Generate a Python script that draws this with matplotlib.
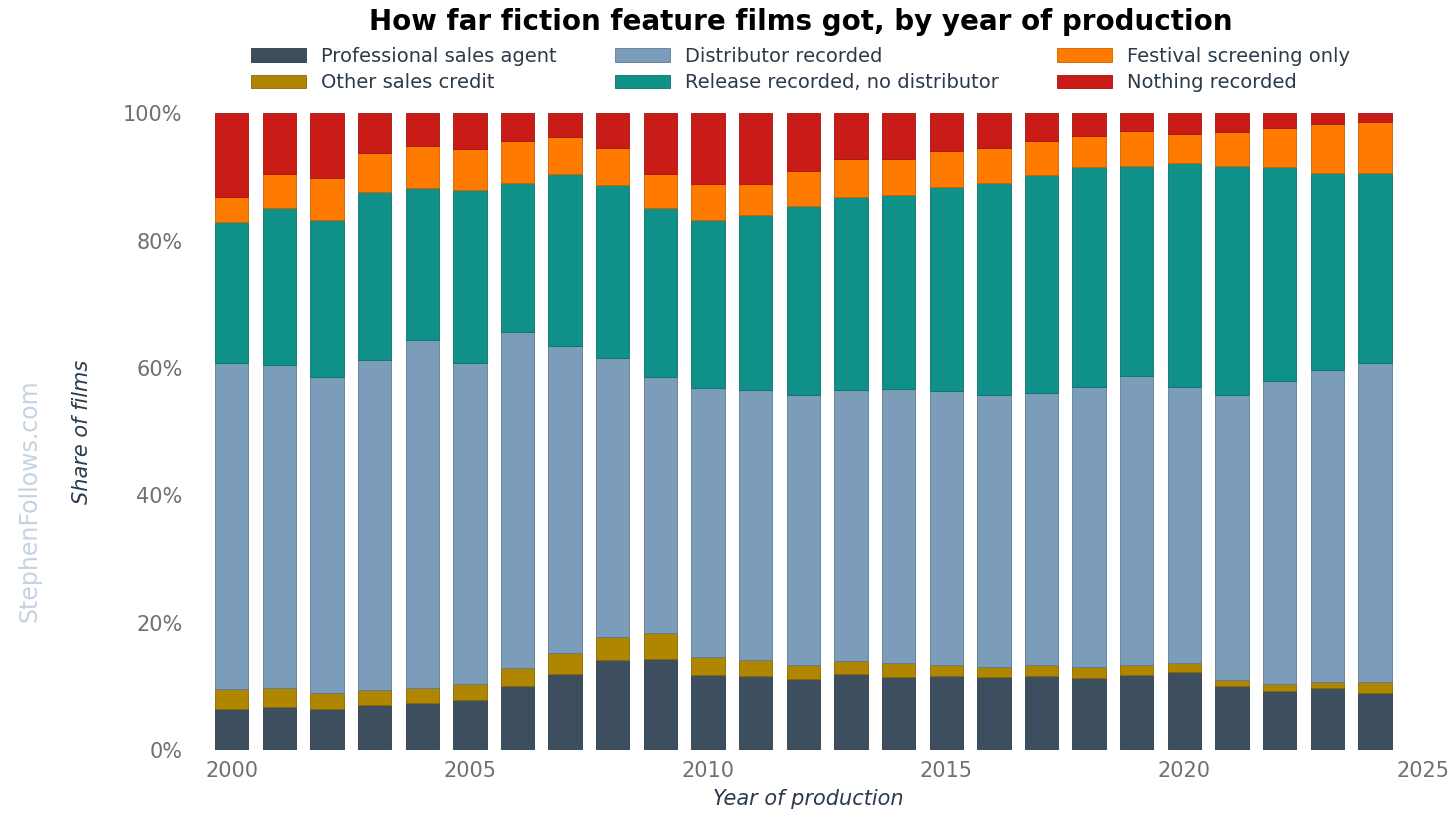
import numpy as np
import matplotlib.pyplot as plt

years = list(range(2000, 2025))
# cumulative share (%) at the top of each stacked segment
upto_sales_agent = [6.5, 6.8, 6.5, 7.1, 7.4, 7.8, 10.0, 12.0, 14.1, 14.3, 11.7, 11.6, 11.1,
                    11.9, 11.4, 11.6, 11.4, 11.6, 11.3, 11.7, 12.3, 10.0, 9.3, 9.7, 9.0]
upto_other_sales = [9.5, 9.8, 9.0, 9.4, 9.7, 10.3, 12.8, 15.2, 17.8, 18.4, 14.6, 14.1, 13.4,
                    14.0, 13.7, 13.4, 13.1, 13.4, 13.1, 13.4, 13.7, 11.0, 10.3, 10.7, 10.6]
upto_distributor = [60.8, 60.5, 58.6, 61.3, 64.4, 60.8, 65.6, 63.5, 61.6, 58.6, 56.8, 56.6, 55.8,
                    56.6, 56.7, 56.4, 55.8, 56.1, 57.0, 58.7, 57.0, 55.8, 57.9, 59.7, 60.8]
upto_release = [83.0, 85.2, 83.3, 87.7, 88.2, 88.0, 89.1, 90.5, 88.8, 85.2, 83.3, 84.0, 85.5,
                86.8, 87.2, 88.5, 89.1, 90.3, 91.6, 91.8, 92.2, 91.8, 91.6, 90.6, 90.6]
upto_festival = [86.8, 90.5, 89.9, 93.8, 94.8, 94.4, 95.6, 96.2, 94.5, 90.5, 88.9, 88.9, 90.9,
                 92.8, 92.8, 94.0, 94.5, 95.6, 96.5, 97.2, 96.7, 97.0, 97.7, 98.3, 98.7]

labels = ["Professional sales agent", "Other sales credit", "Distributor recorded",
          "Release recorded, no distributor", "Festival screening only", "Nothing recorded"]
colors = ["#3d4f5f", "#b08500", "#7b9dba", "#0f9189", "#ff7b00", "#c91c17"]
edges = ["#2b3a47", "#8a6800", "#5a7d9a", "#0b706a", "#cc6200", "#9e1410"]

tops = np.array([upto_sales_agent, upto_other_sales, upto_distributor,
                 upto_release, upto_festival, [100.0] * len(years)])
bottoms = np.vstack([np.zeros(len(years)), tops[:-1]])

fig = plt.figure(figsize=(14.56, 8.21), dpi=100)
ax = fig.add_axes([0.133, 0.0865, 0.844, 0.7755])
handles = []
for i in range(6):
    h = ax.bar(years, tops[i] - bottoms[i], bottom=bottoms[i], width=0.7,
               color=colors[i], edgecolor=edges[i], linewidth=0.6, label=labels[i])
    handles.append(h)

ax.set_xlim(1999.2, 2025)
ax.set_ylim(0, 100)
ax.set_xticks(range(2000, 2026, 5))
ax.set_yticks(range(0, 101, 20))
ax.set_yticklabels([f"{v}%" for v in range(0, 101, 20)])
ax.tick_params(length=0, labelsize=15, colors="#707070", pad=8)
for s in ax.spines.values():
    s.set_visible(False)
ax.set_xlabel("Year of production", fontsize=15, style="italic", color="#2b3a4a", labelpad=6)
ax.set_ylabel("Share of films", fontsize=15, style="italic", color="#2b3a4a", labelpad=22)

fig.suptitle("How far fiction feature films got, by year of production",
             fontsize=20, fontweight="bold", x=0.55, y=0.99)
order = [0, 1, 2, 3, 4, 5]
fig.legend([handles[i] for i in order], [labels[i] for i in order], ncol=3,
           loc="upper center", bbox_to_anchor=(0.55, 0.955), frameon=False,
           fontsize=14, labelcolor="#2b3a4a", handlelength=2.8, columnspacing=3,
           handletextpad=0.8, borderpad=0, labelspacing=0.4)
fig.text(0.02, 0.39, "StephenFollows.com", rotation=90, fontsize=17,
         color="#c5d3e0", ha="center", va="center")

fig.savefig("out.png", dpi=100)
